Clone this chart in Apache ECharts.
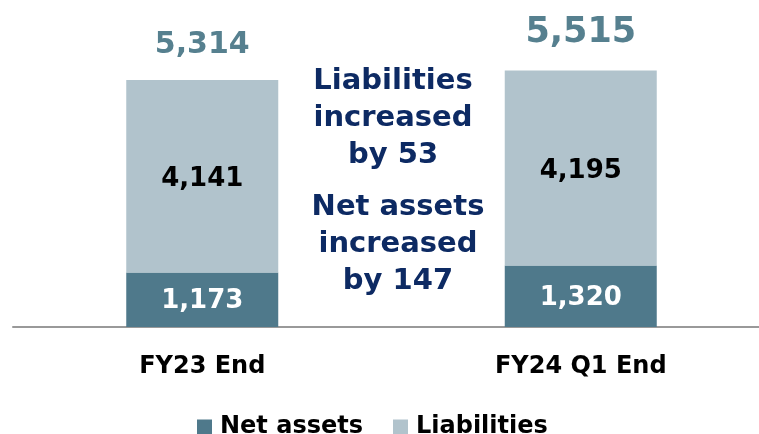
<!DOCTYPE html>
<html>
<head>
<meta charset="utf-8" />
<script src="https://cdn.jsdelivr.net/npm/echarts@6/dist/echarts.min.js"></script>
<title>balance</title>
<style type="text/css">
	* {margin:0; padding:0;}
	body {background:#ffffff;}
	#main {width:759px; height:434px;}
</style>
</head>
<body>
<div id="main"></div>
<script>
// data
var categories = ['FY23 End', 'FY24 Q1 End'];
var netAssets = [1173, 1320];
var liabilities = [4141, 4195];
var totalSizes = [30, 35];   // the total label is bigger on the 2nd bar
var noteLines = ['Liabilities', 'increased', 'by 53', 'Net assets', 'increased', 'by 147'];

var totals = [];
for (var i = 0; i < categories.length; i++) {
	totals.push(netAssets[i] + liabilities[i]);
}

var FONT = 'DejaVu Sans';
var darkBlue = '#4F798B';
var lightBlue = '#B1C3CC';
var navy = '#0D2A63';

function fmt(v) {
	return String(v).replace(/\B(?=(\d{3})+(?!\d))/g, ',');
}

var chart = echarts.init(document.getElementById('main'));
chart.setOption({
	animation: false,
	grid: {left: 13, top: 48, width: 757, height: 279, outerBoundsMode: 'none', containLabel: false},
	legend: {
		data: ['Net assets', 'Liabilities'],
		left: 192,
		top: 410,
		icon: 'rect',
		itemWidth: 15,
		itemHeight: 15,
		itemGap: 30,
		textStyle: {fontFamily: FONT, fontWeight: 'bold', fontSize: 24, color: '#000', padding: [0, 0, 0, 3]}
	},
	xAxis: {
		type: 'category',
		data: categories,
		axisLine: {lineStyle: {color: '#999', width: 2}},
		axisTick: {show: false},
		axisLabel: {fontFamily: FONT, fontWeight: 'bold', fontSize: 24, color: '#000', margin: 28}
	},
	yAxis: {
		type: 'value',
		min: 0,
		max: 6000,
		show: false,
		splitLine: {show: false}
	},
	series: [
		{
			name: 'Net assets',
			type: 'bar',
			stack: 'bs',
			barWidth: 152,
			data: netAssets,
			itemStyle: {color: darkBlue},
			label: {
				show: true,
				position: 'inside',
				offset: [0, 2],
				formatter: function (p) { return fmt(p.value); },
				fontFamily: FONT, fontWeight: 'bold', fontSize: 26, color: '#fff'
			}
		},
		{
			name: 'Liabilities',
			type: 'bar',
			stack: 'bs',
			barWidth: 152,
			data: liabilities,
			itemStyle: {color: lightBlue},
			label: {
				show: true,
				position: 'inside',
				offset: [0, 3],
				formatter: function (p) { return fmt(p.value); },
				fontFamily: FONT, fontWeight: 'bold', fontSize: 26, color: '#000'
			}
		},
		{
			// invisible bar only for the total on top
			name: 'Total',
			type: 'bar',
			barWidth: 152,
			barGap: '-100%',
			silent: true,
			itemStyle: {color: 'rgba(0,0,0,0)'},
			data: totals.map(function (v, i) {
				return {value: v, label: {fontSize: totalSizes[i]}};
			}),
			label: {
				show: true,
				position: 'top',
				distance: 20,
				formatter: function (p) { return fmt(p.value); },
				fontFamily: FONT, fontWeight: 'bold', color: '#56808F'
			}
		}
	],
	graphic: [
		{
			type: 'text',
			x: 393,
			y: 63,
			style: {
				text: noteLines.slice(0, 3).join('\n'),
				align: 'center',
				verticalAlign: 'top',
				fontFamily: FONT, fontWeight: 'bold', fontSize: 29, lineHeight: 37,
				fill: navy
			}
		},
		{
			type: 'text',
			x: 398,
			y: 189,
			style: {
				text: noteLines.slice(3).join('\n'),
				align: 'center',
				verticalAlign: 'top',
				fontFamily: FONT, fontWeight: 'bold', fontSize: 29, lineHeight: 37,
				fill: navy
			}
		}
	]
});
</script>
</body>
</html>
